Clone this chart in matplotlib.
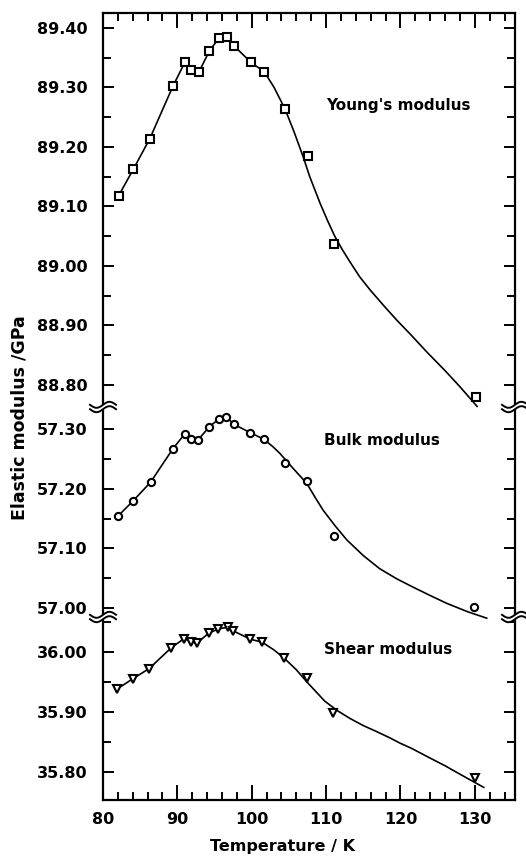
import numpy as np
import matplotlib
matplotlib.use("Agg")
import matplotlib.pyplot as plt
from matplotlib.ticker import MultipleLocator, FormatStrFormatter

# measured data points (temperature / K, modulus / GPa)
young_t = [82.1, 84.1, 86.3, 89.4, 91.0, 91.8, 92.9, 94.3, 95.6, 96.7, 97.6,
           99.9, 101.7, 104.5, 107.6, 111.1, 130.1]
young_e = [89.118, 89.163, 89.214, 89.302, 89.342, 89.329, 89.326, 89.361,
           89.383, 89.385, 89.370, 89.342, 89.326, 89.263, 89.185, 89.037, 88.780]

bulk_t = [82.0, 84.0, 86.4, 89.4, 91.0, 91.8, 92.8, 94.3, 95.6, 96.6, 97.6,
          99.8, 101.6, 104.5, 107.4, 111.1, 129.9]
bulk_k = [57.154, 57.179, 57.211, 57.267, 57.292, 57.283, 57.282, 57.304,
          57.317, 57.320, 57.308, 57.294, 57.283, 57.243, 57.213, 57.120, 57.001]

shear_t = [81.9, 84.0, 86.2, 89.2, 90.9, 91.8, 92.6, 94.2, 95.5, 96.8, 97.5,
           99.8, 101.4, 104.4, 107.4, 110.9, 130.0]
shear_g = [35.938, 35.955, 35.972, 36.007, 36.022, 36.017, 36.014, 36.031,
           36.038, 36.041, 36.035, 36.021, 36.016, 35.989, 35.956, 35.898, 35.789]

# fitted curves
young_fit_t = [82.1, 84.1, 86.3, 89.4, 91.0, 91.8, 92.9, 94.3, 95.6, 96.7, 97.6,
               99.9, 101.7, 103.0, 104.5, 105.7, 106.9, 107.8, 109.2, 110.2,
               111.2, 112.2, 113.2, 114.5, 115.9, 117.7, 119.5, 121.5, 123.5,
               126.0, 128.0, 130.3]
young_fit_e = [89.118, 89.163, 89.214, 89.302, 89.342, 89.330, 89.326, 89.361,
               89.383, 89.385, 89.370, 89.342, 89.326, 89.300, 89.263, 89.225,
               89.184, 89.150, 89.105, 89.076, 89.049, 89.027, 89.007, 88.982,
               88.960, 88.934, 88.909, 88.883, 88.856, 88.824, 88.797, 88.764]

bulk_fit_t = [82.0, 84.0, 86.4, 89.4, 91.0, 91.8, 92.8, 94.3, 95.6, 96.6, 97.6,
              99.8, 101.6, 102.8, 103.8, 105.5, 107.4, 108.5, 109.6, 111.2,
              112.8, 115.0, 117.2, 119.5, 121.7, 124.0, 126.2, 129.0, 131.6]
bulk_fit_k = [57.154, 57.179, 57.211, 57.267, 57.292, 57.283, 57.282, 57.304,
              57.317, 57.320, 57.308, 57.294, 57.283, 57.271, 57.259, 57.235,
              57.209, 57.186, 57.164, 57.138, 57.114, 57.088, 57.066, 57.049,
              57.035, 57.021, 57.008, 56.994, 56.983]

shear_fit_t = [81.9, 84.0, 86.2, 89.2, 90.9, 91.8, 92.6, 94.2, 95.5, 96.8, 97.5,
               99.8, 101.4, 103.0, 104.4, 106.0, 107.4, 108.6, 109.8, 111.5,
               113.2, 115.0, 116.8, 118.5, 119.9, 121.5, 123.5, 126.0, 128.0, 131.2]
shear_fit_g = [35.938, 35.955, 35.972, 36.007, 36.022, 36.017, 36.014, 36.031,
               36.038, 36.041, 36.035, 36.021, 36.016, 36.003, 35.989, 35.970,
               35.950, 35.934, 35.918, 35.902, 35.889, 35.877, 35.867, 35.857,
               35.848, 35.839, 35.826, 35.810, 35.796, 35.774]

labels = ["Young's modulus", "Bulk modulus", "Shear modulus"]

plt.rcParams['font.family'] = ['DejaVu Sans']
plt.rcParams['font.weight'] = 'bold'

W, H = 526, 856
LEFT, RIGHT = 103, 515
fig = plt.figure(figsize=(W / 100, H / 100), dpi=100)


def add_panel(top_px, bot_px):
    return fig.add_axes([LEFT / W, 1 - bot_px / H, (RIGHT - LEFT) / W,
                         (bot_px - top_px) / H])


ax_y = add_panel(13, 407)
ax_b = add_panel(407, 617)
ax_s = add_panel(617, 800)

ax_y.set_ylim(88.763, 89.425)
ax_b.set_ylim(56.985, 57.337)
ax_s.set_ylim(35.753, 36.058)

line_kw = dict(color='black', lw=1.2, clip_on=False, zorder=2)
mk_kw = dict(ls='none', mfc='white', mec='black', mew=1.5, zorder=3, clip_on=False)

ax_y.plot(young_fit_t, young_fit_e, **line_kw)
ax_y.plot(young_t, young_e, marker='s', ms=5.2, **mk_kw)
ax_b.plot(bulk_fit_t, bulk_fit_k, **line_kw)
ax_b.plot(bulk_t, bulk_k, marker='o', ms=5.2, **mk_kw)
ax_s.plot(shear_fit_t, shear_fit_g, **line_kw)
ax_s.plot(shear_t, shear_g, marker='v', ms=6.2, **mk_kw)

txt_kw = dict(fontsize=11, va='center', ha='left')
ax_y.text(0.541, 0.765, labels[0], transform=ax_y.transAxes, **txt_kw)
ax_b.text(0.537, 0.84, labels[1], transform=ax_b.transAxes, **txt_kw)
ax_s.text(0.537, 0.82, labels[2], transform=ax_s.transAxes, **txt_kw)

for ax in (ax_y, ax_b, ax_s):
    ax.set_xlim(80, 135.4)
    ax.yaxis.set_major_locator(MultipleLocator(0.1))
    ax.yaxis.set_minor_locator(MultipleLocator(0.05))
    ax.yaxis.set_major_formatter(FormatStrFormatter('%.2f'))
    ax.xaxis.set_major_locator(MultipleLocator(10))
    ax.xaxis.set_minor_locator(MultipleLocator(2))
    ax.tick_params(axis='y', which='both', direction='in', left=True, right=True,
                   width=1.4, labelsize=11.5, pad=11)
    ax.tick_params(axis='y', which='major', length=8)
    ax.tick_params(axis='y', which='minor', length=6)
    ax.tick_params(axis='x', which='both', direction='in', width=1.4,
                   bottom=False, top=False, labelbottom=False, labelsize=11.5, pad=9)
    ax.tick_params(axis='x', which='major', length=11)
    ax.tick_params(axis='x', which='minor', length=6)
    for s in ax.spines.values():
        s.set_linewidth(1.6)
    ax.patch.set_alpha(0)

ax_y.spines['bottom'].set_visible(False)
ax_b.spines['top'].set_visible(False)
ax_b.spines['bottom'].set_visible(False)
ax_s.spines['top'].set_visible(False)
ax_y.tick_params(axis='x', which='both', top=True)
ax_s.tick_params(axis='x', which='both', bottom=True, labelbottom=True)

fig.text(282 / W, 1 - 847 / H, 'Temperature / K', fontsize=11.5,
         ha='center', va='center')
fig.text(20 / W, 1 - 418 / H, 'Elastic modulus /GPa', rotation=90, fontsize=12.5,
         ha='center', va='center')


# axis-break marks (two wavy strokes across each side spine)
def draw_break(xc, yc):
    u = np.linspace(-1, 1, 40)
    xs = xc + 13 * u
    wave = 3.0 * np.sin(np.pi * u)
    for off in (-2.2, 2.2):
        ys = yc + off - wave
        fig.add_artist(plt.Line2D(xs / W, 1 - ys / H, color='black', lw=1.4,
                                  transform=fig.transFigure, zorder=5))
    poly = np.column_stack([np.r_[xs, xs[::-1]] / W,
                            1 - np.r_[yc - 2.2 - wave, (yc + 2.2 - wave)[::-1]] / H])
    fig.add_artist(plt.Polygon(poly, closed=True, fc='white', ec='none',
                               transform=fig.transFigure, zorder=4))


for yb in (407, 617):
    draw_break(LEFT, yb)
    draw_break(RIGHT, yb)

fig.savefig('out.png', dpi=100)
